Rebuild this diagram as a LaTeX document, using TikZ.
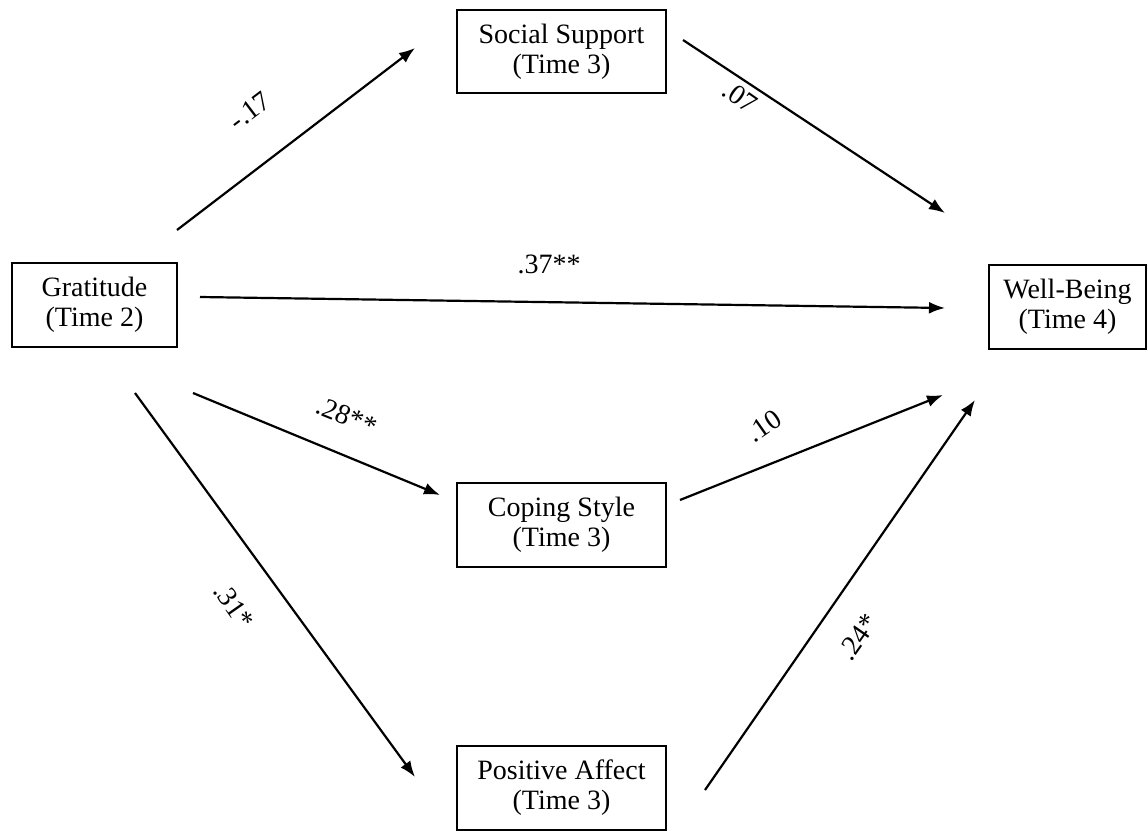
\documentclass[tikz,border=0pt]{standalone}
\usepackage{fontspec}
\setmainfont{Liberation Serif}
\usetikzlibrary{arrows.meta}
\begin{document}
\begin{tikzpicture}[x=1pt,y=-1pt,
  box/.style={draw,line width=2.2pt,align=center,inner sep=0pt,font=\fontsize{28}{30}\selectfont},
  conn/.style={line width=2.2pt,-{Latex[length=16pt,width=12pt]}},
  lbl/.style={font=\fontsize{28}{30}\selectfont,inner sep=0pt}]
\useasboundingbox (0,0) rectangle (1148,830);
\node[box,minimum width=165,minimum height=84] (grat) at (94.5,305) {Gratitude\\(Time 2)};
\node[box,minimum width=209,minimum height=83] (soc) at (561.5,51.5) {Social Support\\(Time 3)};
\node[box,minimum width=157,minimum height=84] (wb) at (1067.5,307) {Well-Being\\(Time 4)};
\node[box,minimum width=209,minimum height=84] (cop) at (561.5,525) {Coping Style\\(Time 3)};
\node[box,minimum width=209,minimum height=84] (pos) at (561.5,788) {Positive Affect\\(Time 3)};
\coordinate (a1) at (177,230); \coordinate (b1) at (415,48);
\coordinate (a2) at (683,40); \coordinate (b2) at (945,213);
\coordinate (a3) at (200,297); \coordinate (b3) at (945,308);
\coordinate (a4) at (193,393); \coordinate (b4) at (440,495);
\coordinate (a5) at (680,500); \coordinate (b5) at (943,395);
\coordinate (a6) at (135,393); \coordinate (b6) at (415,777);
\coordinate (a7) at (705,790); \coordinate (b7) at (975,400);
\draw[conn] (a1) -- (b1);
\draw[conn] (a2) -- (b2);
\draw[conn] (a3) -- (b3);
\draw[conn] (a4) -- (b4);
\draw[conn] (a5) -- (b5);
\draw[conn] (a6) -- (b6);
\draw[conn] (a7) -- (b7);
\node[lbl,rotate=37] (l1) at (250,111) {-.17};
\node[lbl,rotate=-35] (l2) at (740,97) {.07};
\node[lbl] (l3) at (549,264) {.37**};
\node[lbl,rotate=-22] (l4) at (347,416) {.28**};
\node[lbl,rotate=35] (l5) at (764,426) {.10};
\node[lbl,rotate=-55] (l6) at (234,606) {.31*};
\node[lbl,rotate=55] (l7) at (858,637) {.24*};
\end{tikzpicture}
\end{document}
